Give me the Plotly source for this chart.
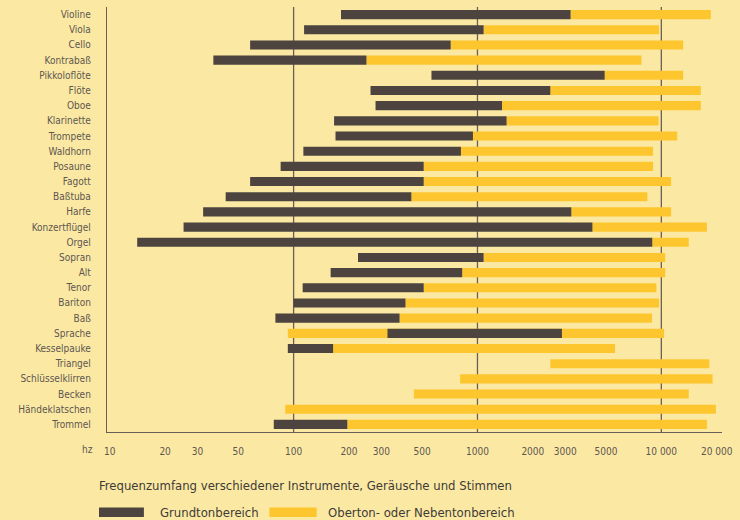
import plotly.graph_objects as go

instruments = ["Violine", "Viola", "Cello", "Kontrabaß", "Pikkoloflöte", "Flöte", "Oboe",
               "Klarinette", "Trompete", "Waldhorn", "Posaune", "Fagott", "Baßtuba", "Harfe",
               "Konzertflügel", "Orgel", "Sopran", "Alt", "Tenor", "Bariton", "Baß", "Sprache",
               "Kesselpauke", "Triangel", "Schlüsselklirren", "Becken", "Händeklatschen", "Trommel"]

# Grundtonbereich (fundamental range), Hz
grund_low = [181, 114, 58, 36.6, 562, 262, 279, 166, 169, 113, 85, 58, 42.7, 32.2,
             25.2, 14.1, 224, 159, 112, 100, 79.6, 324, 93, None, None, None, None, 78]
grund_high = [3210, 1080, 715, 249, 4920, 2490, 1360, 1440, 945, 813, 510, 510, 437, 3240,
              4220, 8930, 1080, 826, 510, 406, 377, 2880, 164, None, None, None, None, 196]

# Oberton- oder Nebentonbereich (overtone range), Hz
ober_low = [3210, 1080, 715, 249, 4920, 2490, 1360, 1440, 945, 813, 510, 510, 437, 3240,
            4220, 8930, 1080, 826, 510, 406, 377, 93, 164, 2490, 805, 451, 90, 196]
ober_high = [18600, 9720, 13150, 7800, 13150, 16400, 16400, 9660, 12200, 9020, 9020, 11300,
             8400, 11300, 17700, 14100, 10500, 10500, 9400, 9720, 8900, 10350, 5600, 18250,
             19000, 14100, 19800, 17700]

tick_vals = [10, 20, 30, 50, 100, 200, 300, 500, 1000, 2000, 3000, 5000, 10000, 20000]
tick_text = ["10", "20", "30", "50", "100", "200", "300", "500", "1000", "2000", "3000",
             "5000", "10 000", "20 000"]
grid_vals = [100, 1000, 10000]

BG = "#fbe9a3"
DARK = "#4d433f"
YELLOW = "#fdc62f"
LINE = "#6a5f58"
TEXT = "#5e5651"
FONT = "DejaVu Sans Condensed, Liberation Sans Narrow, sans-serif"

fig = go.Figure()

fig.add_trace(go.Bar(
    y=instruments,
    base=ober_low,
    x=[h - l for l, h in zip(ober_low, ober_high)],
    orientation="h",
    marker=dict(color=YELLOW, line=dict(width=0)),
    name="Oberton- oder Nebentonbereich",
    showlegend=False,
))

fig.add_trace(go.Bar(
    y=instruments,
    base=grund_low,
    x=[(h - l) if (l is not None and h is not None) else None for l, h in zip(grund_low, grund_high)],
    orientation="h",
    marker=dict(color=DARK, line=dict(width=0)),
    name="Grundtonbereich",
    showlegend=False,
))

for g in grid_vals:
    fig.add_shape(type="line", xref="x", yref="paper", x0=g, x1=g, y0=0, y1=1.0,
                  line=dict(color=LINE, width=1.3), layer="below")

fig.update_layout(
    width=740, height=520,
    margin=dict(l=107, r=15, t=7, b=88),
    paper_bgcolor=BG, plot_bgcolor=BG,
    barmode="overlay", bargap=0.4,
    font=dict(family=FONT, color=TEXT, size=10),
    xaxis=dict(type="log", range=[0.985, 4.33], tickvals=tick_vals, ticktext=tick_text,
               showgrid=False, zeroline=False, showline=True, linecolor=LINE, linewidth=1.3,
               ticks="", tickfont=dict(size=10, color=TEXT), ticklabelstandoff=10),
    yaxis=dict(autorange="reversed", showgrid=False, zeroline=False, showline=True,
               linecolor=LINE, linewidth=1.3, ticks="", tickfont=dict(size=10, color=TEXT),
               ticklabelstandoff=13),
    showlegend=False,
)

fig.add_annotation(text="hz", xref="paper", yref="paper", x=-0.032, y=-0.04,
                   xanchor="center", yanchor="middle", showarrow=False,
                   font=dict(size=10, color=TEXT, family=FONT))
fig.add_annotation(text="Frequenzumfang verschiedener Instrumente, Geräusche und Stimmen",
                   xref="paper", yref="paper", x=-0.016, y=-0.125, xanchor="left",
                   yanchor="middle", showarrow=False,
                   font=dict(size=13, color="#3f3a37", family=FONT))

# legend swatches
fig.add_shape(type="rect", xref="paper", yref="paper", x0=-0.013, x1=0.060,
              y0=-0.2, y1=-0.1775, fillcolor=DARK, line=dict(width=0))
fig.add_annotation(text="Grundtonbereich", xref="paper", yref="paper", x=0.083, y=-0.189,
                   xanchor="left", yanchor="middle", showarrow=False,
                   font=dict(size=13, color="#3f3a37", family=FONT))
fig.add_shape(type="rect", xref="paper", yref="paper", x0=0.264, x1=0.341,
              y0=-0.2, y1=-0.1775, fillcolor=YELLOW, line=dict(width=0))
fig.add_annotation(text="Oberton- oder Nebentonbereich", xref="paper", yref="paper",
                   x=0.356, y=-0.189, xanchor="left", yanchor="middle", showarrow=False,
                   font=dict(size=13, color="#3f3a37", family=FONT))

fig.write_html("out.html", config={"displayModeBar": False},
               post_script="document.body.style.margin='0';")
